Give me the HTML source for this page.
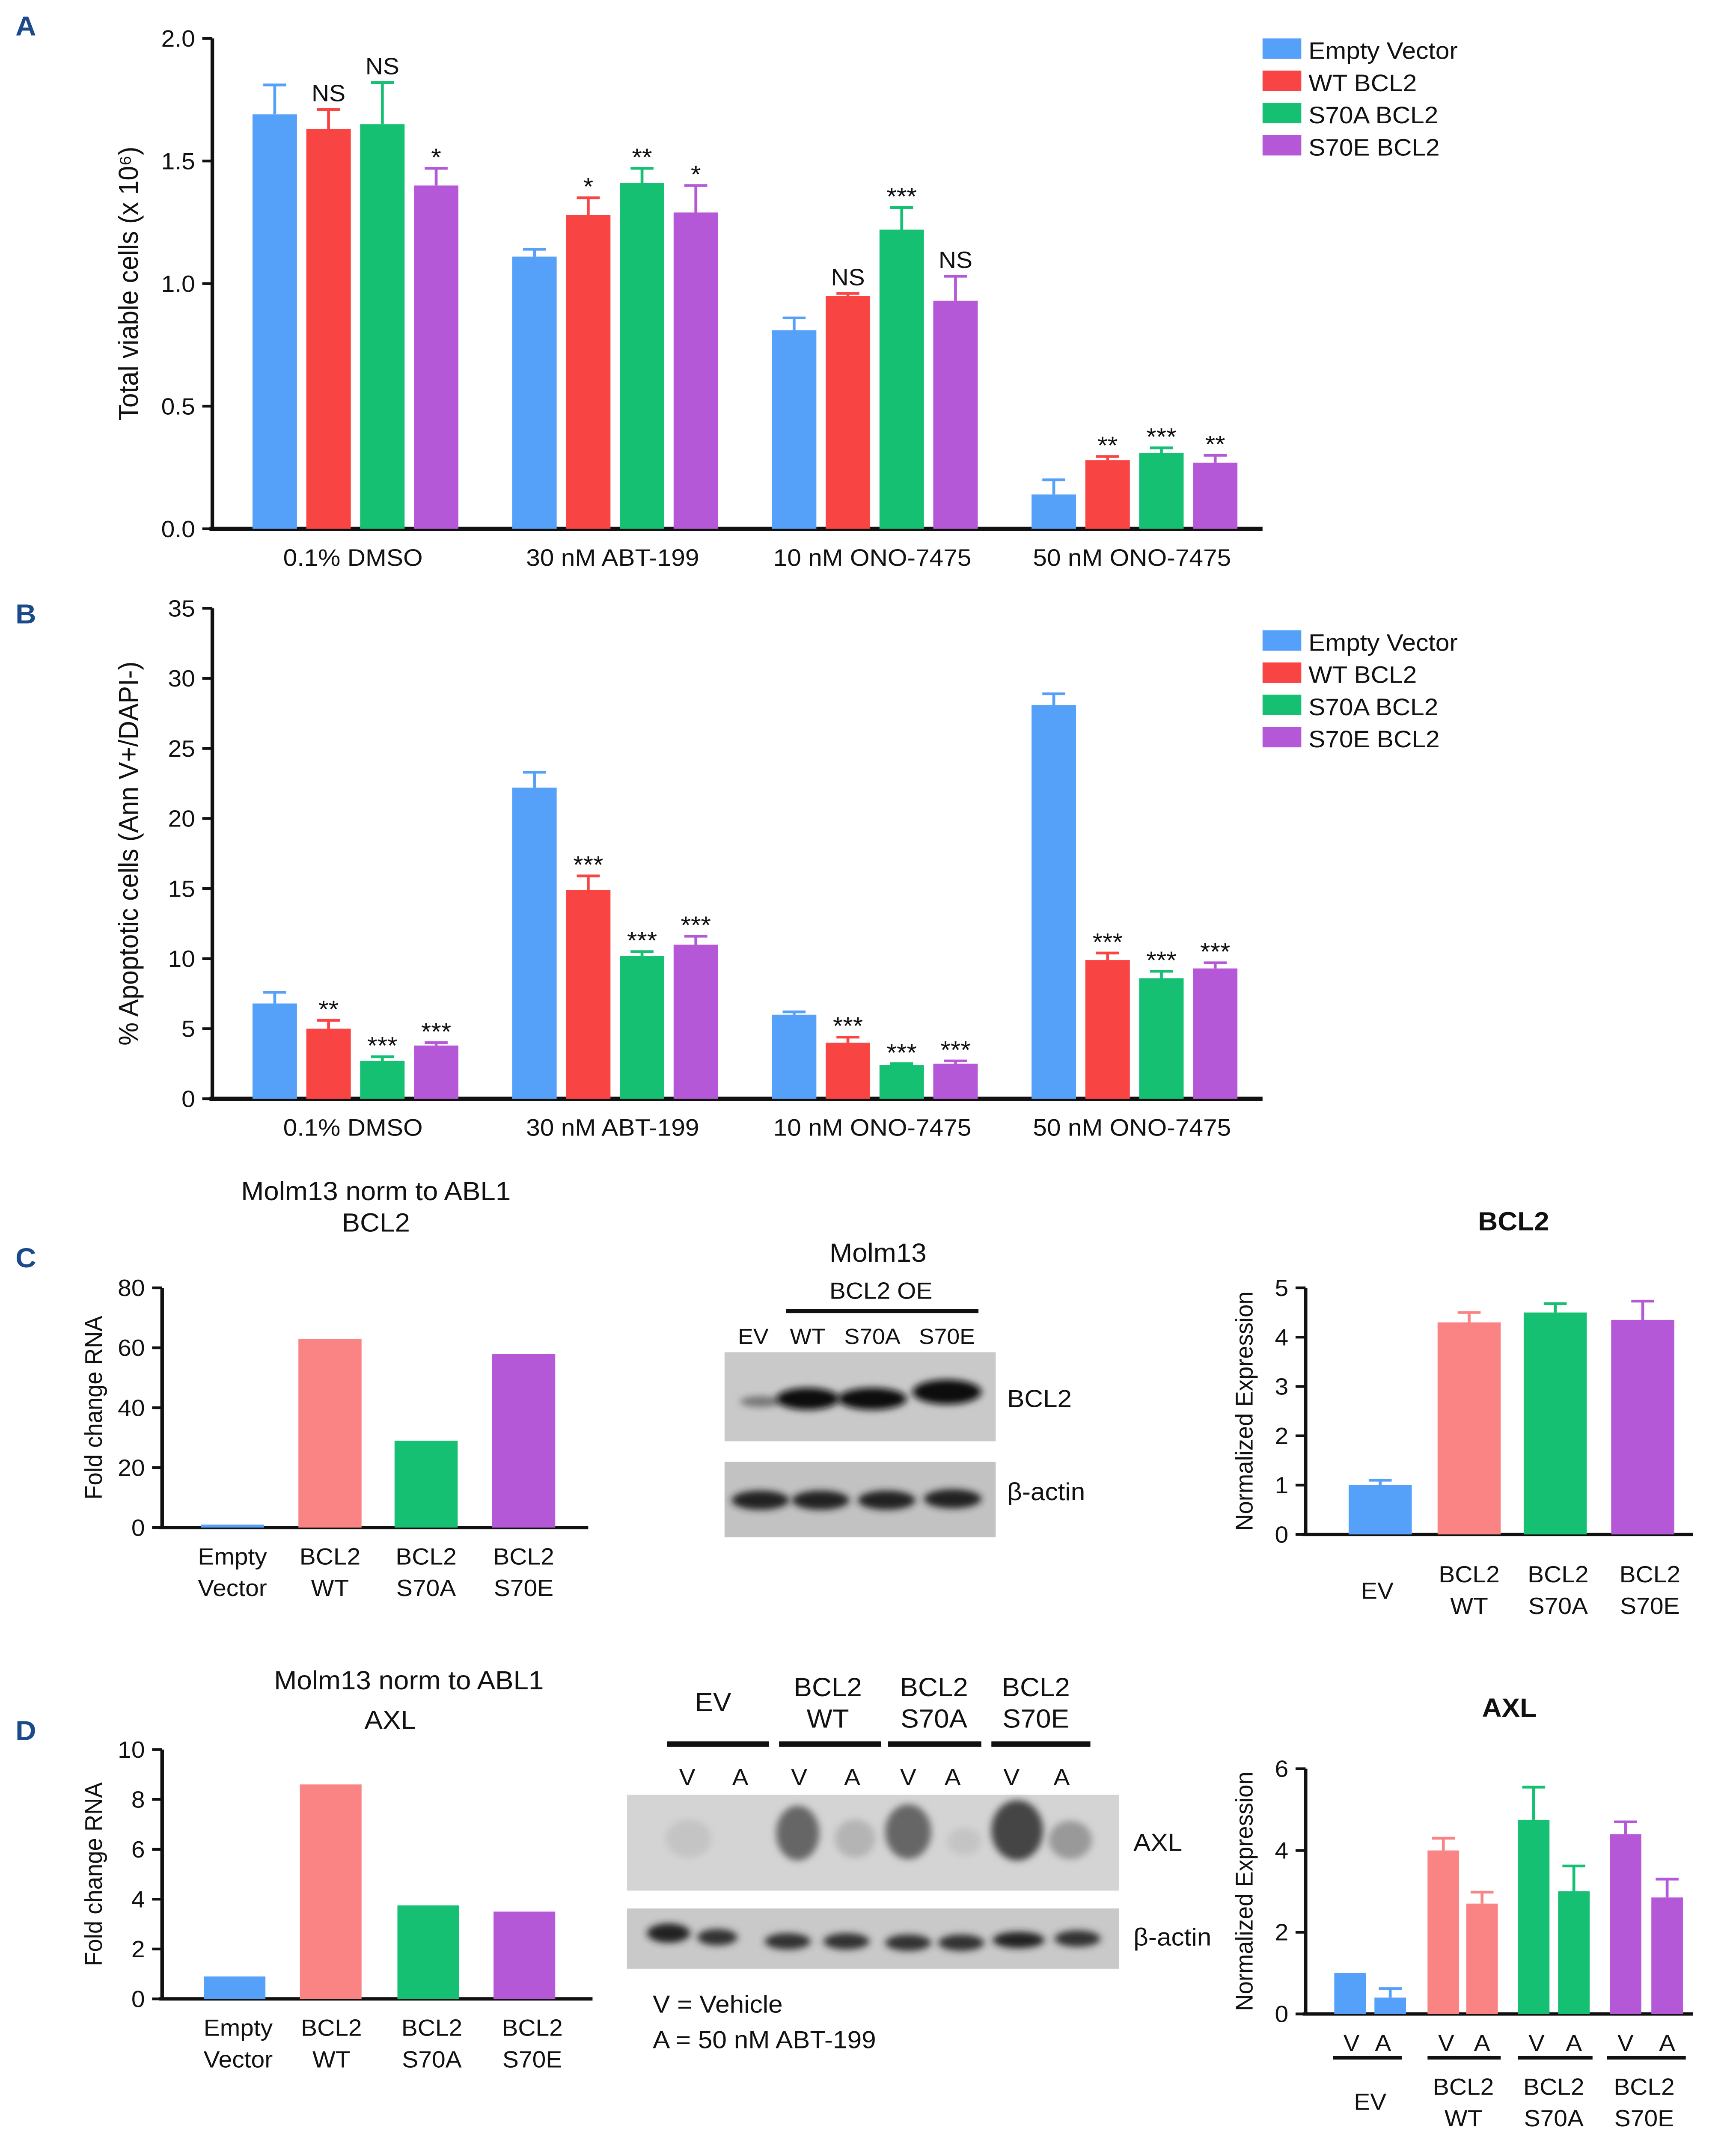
<!DOCTYPE html>
<html><head><meta charset="utf-8">
<style>
html,body{margin:0;padding:0;background:#fff;width:100vw;height:100vh;overflow:hidden;}
svg{position:fixed;left:0;top:0;display:block;width:100vw;height:100vh;overflow:hidden;font-family:"Liberation Sans",Arial,sans-serif;}
</style></head>
<body>
<svg id="fig" viewBox="0 0 1210 1562" preserveAspectRatio="none" xmlns="http://www.w3.org/2000/svg">
<defs>
<filter id="blur2" x="-50%" y="-50%" width="200%" height="200%"><feGaussianBlur stdDeviation="2.5"/></filter>
</defs>
</svg>
<script>
const NS="http://www.w3.org/2000/svg";
const svg=document.getElementById('fig');
const COLORS=["#55a0f9","#f94444","#16c072","#b558d8"];
const COLORS2=["#55a0f9","#f98483","#16c072","#b558d8"];
// ---- Panel A data ----
const groupsAB=["0.1% DMSO","30 nM ABT-199","10 nM ONO-7475","50 nM ONO-7475"];
const seriesNames=["Empty Vector","WT BCL2","S70A BCL2","S70E BCL2"];
const aVals=[[1.69,1.63,1.65,1.40],[1.11,1.28,1.41,1.29],[0.81,0.95,1.22,0.93],[0.14,0.28,0.31,0.27]];
const aErr=[[0.12,0.08,0.17,0.07],[0.03,0.07,0.06,0.11],[0.05,0.01,0.09,0.10],[0.06,0.015,0.02,0.03]];
const aSig=[["","NS","NS","*"],["","*","**","*"],["","NS","***","NS"],["","**","***","**"]];
const aTicks=["0.0","0.5","1.0","1.5","2.0"];
// ---- Panel B data ----
const bVals=[[6.8,5.0,2.7,3.8],[22.2,14.9,10.2,11.0],[6.0,4.0,2.4,2.5],[28.1,9.9,8.6,9.3]];
const bErr=[[0.8,0.6,0.3,0.2],[1.1,1.0,0.3,0.6],[0.2,0.4,0.1,0.2],[0.8,0.5,0.5,0.4]];
const bSig=[["","**","***","***"],["","***","***","***"],["","***","***","***"],["","***","***","***"]];
const bTicks=["0","5","10","15","20","25","30","35"];
// ---- Panel C/D data ----
const cCats=[["Empty","Vector"],["BCL2","WT"],["BCL2","S70A"],["BCL2","S70E"]];
const cRna=[1,63,29,58];
const cRnaTicks=["0","20","40","60","80"];
const cProt=[1.0,4.3,4.5,4.35];
const cProtErr=[0.1,0.2,0.18,0.38];
const cProtTicks=["0","1","2","3","4","5"];
const dRna=[0.9,8.6,3.75,3.5];
const dRnaTicks=["0","2","4","6","8","10"];
const dProt=[1.0,0.4,4.0,2.7,4.75,3.0,4.4,2.85];
const dProtErr=[0,0.22,0.3,0.28,0.8,0.62,0.3,0.45];
const dProtTicks=["0","2","4","6"];

function el(tag,attrs,parent,text){const e=document.createElementNS(NS,tag);for(const k in attrs)e.setAttribute(k,attrs[k]);if(text!==undefined)e.textContent=text;(parent||svg).appendChild(e);return e;}
function txt(x,y,s,size,name,anchor,extra){const t=el('text',Object.assign({x:x,y:y,'font-size':size,'text-anchor':anchor||'middle',fill:'#111'},extra||{}),svg,s);return t;}
function line(x1,y1,x2,y2,w,name,col){const l=el('line',{x1,y1,x2,y2,stroke:col||'#111','stroke-width':w||2});return l;}
function rect(x,y,w,h,fill,name){const r=el('rect',{x,y,width:w,height:h,fill});return r;}

function axisY(x,y0,y1,ticks,max,fs,name){
  line(x,y0+1,x,y1,2.5,name+'-axis');
  ticks.forEach((t,i)=>{const v=max*i/(ticks.length-1);const y=y0-(y0-y1)*v/max;line(x-7,y,x,y,2,name+'-tick');txt(x-12,y+6,t,fs,name+'-tick-label','end');});
}
function errbar(cx,yTop,yErr,col,name){line(cx,yTop,cx,yErr,2,name,col);line(cx-8,yErr,cx+8,yErr,2,name,col);}

function groupedChart(vals,errs,sigs,ticks,max,y0,y1,xAxisEnd,ylabel,prefix){
  const sy=v=>y0-(y0-y1)*v/max;
  axisY(148,y0,y1,ticks,max,17,prefix+'-y');
  line(146,y0,xAxisEnd,y0,3,prefix+'-x-axis');
  groupsAB.forEach((g,gi)=>{
    const gx=176+gi*181;
    vals[gi].forEach((v,si)=>{
      const x=gx+si*37.5;
      const yT=sy(v), yE=sy(v+errs[gi][si]);
      errbar(x+15.5,yT,yE,COLORS[si],prefix+'-error-bar');
      const r=rect(x,yT,31,y0-yT,COLORS[si],prefix+'-bar');
      
      if(sigs[gi][si]){const s=sigs[gi][si];const isNS=s==='NS';txt(x+15.5,yE-(isNS?6:2),s,isNS?17:18,prefix+'-significance');}
    });
    txt(gx+70,y0+27,g,17.5,prefix+'-x-label');
  });
  const t=txt(0,0,ylabel,19,prefix+'-y-axis-title');t.setAttribute('transform',`translate(96,${(y0+y1)/2}) rotate(-90)`);
  seriesNames.forEach((n,i)=>{const ly=(prefix==='a'?28:460)+i*23.5;rect(880,ly,27,15,COLORS[i],prefix+'-legend-swatch');txt(912,ly+15,n,17.5,prefix+'-legend-entry','start');});
}
groupedChart(aVals,aErr,aSig,aTicks,2.0,386,28,880,"Total  viable cells (x 10\u2076)",'a');
groupedChart(bVals,bErr,bSig,bTicks,35,802,444,880,"% Apoptotic  cells (Ann V+/DAPI-)",'b');

[["A",18,26],["B",18,455],["C",18,925],["D",18,1270]].forEach(p=>txt(p[1],p[2],p[0],20,'panel-letter-'+p[0].toLowerCase(),'middle',{'font-weight':'bold',fill:'#1a4a8a'}));

function simpleBars(vals,ticks,max,ax,y0,y1,xEnd,xs,bw,cols,errs,prefix,ylabel,ylx){
  const sy=v=>y0-(y0-y1)*v/max;
  axisY(ax,y0,y1,ticks,max,17,prefix+'-y');
  line(ax-2,y0,xEnd,y0,2.5,prefix+'-x-axis');
  vals.forEach((v,i)=>{
    const x=xs[i];const yT=sy(v);
    if(errs&&errs[i]>0){errbar(x+bw/2,yT,sy(v+errs[i]),cols[i],prefix+'-error-bar');}
    rect(x,yT,bw,y0-yT,cols[i],prefix+'-bar-'+i);
  });
  const t=txt(0,0,ylabel,17,prefix+'-y-axis-title');t.setAttribute('transform',`translate(${ylx},${(y0+y1)/2}) rotate(-90)`);
}
txt(262,876,"Molm13 norm to ABL1",19,'c-rna-title');txt(262,899,"BCL2",19,'c-rna-subtitle');
simpleBars(cRna,cRnaTicks,80,113,1115,940,410,[140,208,275,343],44,COLORS2,null,'c-rna',"Fold change RNA",71);
cCats.forEach((c,i)=>{const cx=[162,230,297,365][i];txt(cx,1142,c[0],17,'c-rna-x-label');txt(cx,1165,c[1],17,'c-rna-x-label');});
txt(1055,898,"BCL2",19,'c-prot-title','middle',{'font-weight':'bold'});
simpleBars(cProt,cProtTicks,5,910,1120,940,1180,[940,1002,1062,1123],44,COLORS2,cProtErr,'c-prot',"Normalized Expression",873);
[["EV",""],["BCL2","WT"],["BCL2","S70A"],["BCL2","S70E"]].forEach((c,i)=>{const cx=[960,1024,1086,1150][i];if(i===0)txt(cx,1167,c[0],17,'c-prot-x-label');else{txt(cx,1155,c[0],17,'c-prot-x-label');txt(cx,1178,c[1],17,'c-prot-x-label');}});
txt(285,1233,"Molm13 norm to ABL1",19,'d-rna-title');txt(272,1262,"AXL",19,'d-rna-subtitle');
simpleBars(dRna,dRnaTicks,10,113,1459,1277,413,[142,209,277,344],43,COLORS2,null,'d-rna',"Fold change RNA",71);
cCats.forEach((c,i)=>{const cx=[166,231,301,371][i];txt(cx,1486,c[0],17,'d-rna-x-label');txt(cx,1509,c[1],17,'d-rna-x-label');});
txt(1052,1253,"AXL",19,'d-prot-title','middle',{'font-weight':'bold'});
const dCols=[COLORS2[0],COLORS2[0],COLORS2[1],COLORS2[1],COLORS2[2],COLORS2[2],COLORS2[3],COLORS2[3]];
simpleBars(dProt,dProtTicks,6,910,1470,1291,1180,[930,958,995,1022,1058,1086,1122,1151],22,dCols,dProtErr,'d-prot',"Normalized Expression",873);
[[929,977],[995,1046],[1058,1110],[1120,1175]].forEach((p,i)=>{line(p[0],1502,p[1],1502,2.5,'d-prot-group-bar');txt(p[0]+13,1497,"V",17,'d-prot-lane-label');txt(p[1]-13,1497,"A",17,'d-prot-lane-label');});
txt(955,1540,"EV",17,'d-prot-x-label');
[["WT",1020],["S70A",1083],["S70E",1146]].forEach(p=>{txt(p[1],1529,"BCL2",17,'d-prot-x-label');txt(p[1],1552,p[0],17,'d-prot-x-label');});

function blot(x,y,w,h,bg,bands,name){
  const g=el('g',{});
  el('rect',{x,y,width:w,height:h,fill:bg},g);
  bands.forEach(b=>{el('ellipse',{cx:b[0],cy:b[1],rx:b[2],ry:b[3],fill:b[4],filter:'url(#blur2)'},g);});
}
txt(612,921,"Molm13",19,'c-blot-title');txt(614,948,"BCL2 OE",17,'c-blot-subtitle');
line(548,957,682,957,3,'c-blot-oe-bar');
[["EV",525],["WT",563],["S70A",608],["S70E",660]].forEach(p=>txt(p[1],981,p[0],16,'c-blot-lane-label'));
blot(505,987,189,65,"#c9c9c9",[[530,1023,14,4,"#777"],[563,1021,22,8,"#111"],[608,1021,24,8,"#111"],[660,1016,24,9,"#111"]],'c-blot-bcl2');
blot(505,1067,189,55,"#c2c2c2",[[530,1095,20,7,"#222"],[572,1095,20,7,"#222"],[618,1095,20,7,"#222"],[664,1094,20,7,"#222"]],'c-blot-actin');
txt(702,1027,"BCL2",18,'c-blot-label-bcl2','start');txt(702,1095,"\u03b2-actin",18,'c-blot-label-actin','start');
txt(497,1249,"EV",19,'d-blot-ev');
[["BCL2","WT",577],["BCL2","S70A",651],["BCL2","S70E",722]].forEach(p=>{txt(p[2],1238,p[0],19,'d-blot-group');txt(p[2],1261,p[1],19,'d-blot-group');});
[[465,536],[543,614],[619,684],[691,760]].forEach((p,i)=>{line(p[0],1273,p[1],1273,4,'d-blot-group-bar');txt(p[0]+14,1303,"V",17,'d-blot-lane');txt(p[1]-20,1303,"A",17,'d-blot-lane');});
blot(437,1310,343,70,"#d4d4d4",[[480,1342,16,14,"#c4c4c4"],[556,1338,15,20,"#666"],[596,1342,14,14,"#b4b4b4"],[633,1337,16,20,"#666"],[672,1344,12,10,"#c4c4c4"],[709,1336,18,22,"#444"],[746,1343,15,14,"#999"]],'d-blot-axl');
blot(437,1393,343,44,"#c9c9c9",[[466,1411,15,7,"#222"],[500,1414,14,6,"#333"],[549,1417,16,6,"#333"],[590,1417,16,6,"#333"],[633,1418,16,6,"#333"],[670,1418,16,6,"#333"],[710,1416,18,6,"#222"],[751,1415,16,6,"#333"]],'d-blot-actin');
txt(790,1351,"AXL",18,'d-blot-label-axl','start');txt(790,1420,"\u03b2-actin",18,'d-blot-label-actin','start');
txt(455,1469,"V = Vehicle",18,'d-legend-vehicle','start');txt(455,1495,"A = 50 nM ABT-199",18,'d-legend-abt','start');
</script>
</body></html>
